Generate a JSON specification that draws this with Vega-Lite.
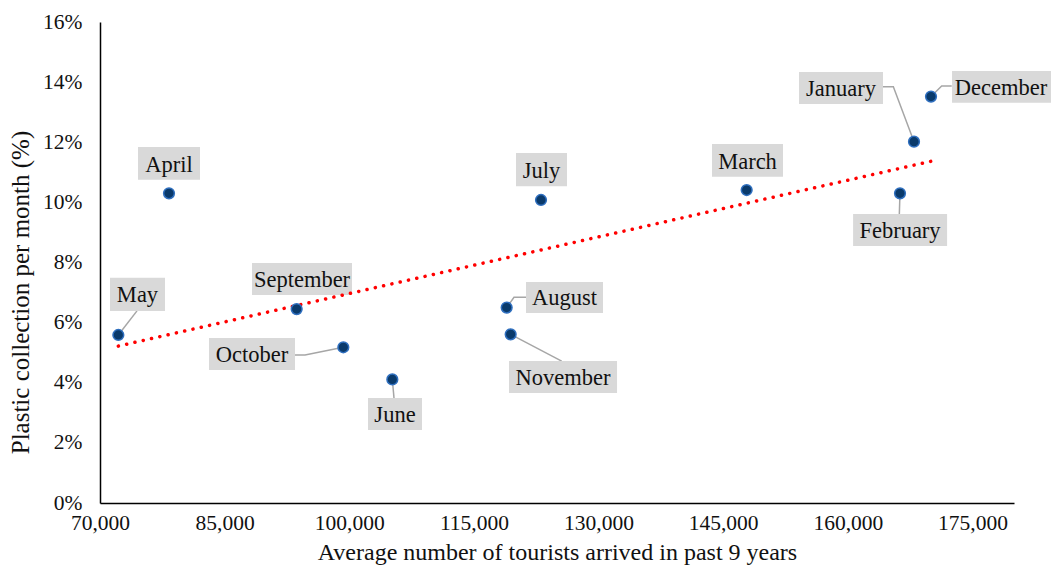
{
  "$schema": "https://vega.github.io/schema/vega-lite/v6.json",
  "width": 914,
  "height": 481,
  "autosize": {"type": "none"},
  "padding": {"left": 100, "top": 22, "right": 37, "bottom": 72},
  "background": "white",
  "config": {
    "view": {"stroke": null},
    "font": "Liberation Serif",
    "axis": {
      "grid": false,
      "ticks": false,
      "tickSize": 0,
      "domainColor": "#000000",
      "domainWidth": 1.5,
      "labelFont": "Liberation Serif",
      "labelFontSize": 21.5,
      "labelColor": "#111111",
      "titleFont": "Liberation Serif",
      "titleFontWeight": "normal",
      "titleColor": "#111111"
    }
  },
  "datasets": {
    "points": [
      {"month": "May", "x": 72206, "y": 5.59},
      {"month": "April", "x": 78304, "y": 10.30},
      {"month": "September", "x": 93669, "y": 6.45},
      {"month": "October", "x": 99285, "y": 5.18},
      {"month": "June", "x": 105182, "y": 4.11},
      {"month": "August", "x": 118943, "y": 6.50},
      {"month": "November", "x": 119424, "y": 5.61},
      {"month": "July", "x": 123075, "y": 10.08},
      {"month": "March", "x": 147827, "y": 10.41},
      {"month": "February", "x": 166280, "y": 10.30},
      {"month": "January", "x": 167965, "y": 12.02},
      {"month": "December", "x": 170011, "y": 13.52}
    ],
    "labels": [
      {"month": "April", "x": 78304, "y": 11.29, "bx1": 74573, "bx2": 82035, "by1": 10.75, "by2": 11.84},
      {"month": "May", "x": 74513, "y": 6.94, "bx1": 71204, "bx2": 77823, "by1": 6.39, "by2": 7.49},
      {"month": "September", "x": 94311, "y": 7.45, "bx1": 88293, "bx2": 100328, "by1": 6.92, "by2": 7.98},
      {"month": "October", "x": 88293, "y": 4.96, "bx1": 83118, "bx2": 93469, "by1": 4.42, "by2": 5.49},
      {"month": "July", "x": 123134, "y": 11.09, "bx1": 120068, "bx2": 126206, "by1": 10.54, "by2": 11.64},
      {"month": "August", "x": 125903, "y": 6.84, "bx1": 121271, "bx2": 130537, "by1": 6.32, "by2": 7.35},
      {"month": "November", "x": 125722, "y": 4.19, "bx1": 119226, "bx2": 132224, "by1": 3.66, "by2": 4.72},
      {"month": "June", "x": 105503, "y": 2.96, "bx1": 102254, "bx2": 108753, "by1": 2.43, "by2": 3.49},
      {"month": "March", "x": 147927, "y": 11.39, "bx1": 143654, "bx2": 152198, "by1": 10.85, "by2": 11.94},
      {"month": "January", "x": 159180, "y": 13.81, "bx1": 154125, "bx2": 164235, "by1": 13.27, "by2": 14.34},
      {"month": "December", "x": 178436, "y": 13.84, "bx1": 172542, "bx2": 184600, "by1": 13.31, "by2": 14.37},
      {"month": "February", "x": 166280, "y": 9.08, "bx1": 160636, "bx2": 171948, "by1": 8.55, "by2": 9.61}
    ],
    "leaders": [
      {"month": "May", "ord": 1, "x": 74453, "y": 6.39},
      {"month": "May", "ord": 2, "x": 72206, "y": 5.59},
      {"month": "October", "ord": 1, "x": 93469, "y": 4.92},
      {"month": "October", "ord": 2, "x": 94673, "y": 4.92},
      {"month": "October", "ord": 3, "x": 99285, "y": 5.18},
      {"month": "August", "ord": 1, "x": 121271, "y": 6.84},
      {"month": "August", "ord": 2, "x": 119825, "y": 6.84},
      {"month": "August", "ord": 3, "x": 118943, "y": 6.50},
      {"month": "November", "ord": 1, "x": 125562, "y": 4.72},
      {"month": "November", "ord": 2, "x": 119424, "y": 5.61},
      {"month": "June", "ord": 1, "x": 105383, "y": 3.49},
      {"month": "June", "ord": 2, "x": 105182, "y": 4.11},
      {"month": "January", "ord": 1, "x": 164195, "y": 13.85},
      {"month": "January", "ord": 2, "x": 165479, "y": 13.85},
      {"month": "January", "ord": 3, "x": 167965, "y": 12.02},
      {"month": "December", "ord": 1, "x": 172502, "y": 13.87},
      {"month": "December", "ord": 2, "x": 171298, "y": 13.87},
      {"month": "December", "ord": 3, "x": 170011, "y": 13.52},
      {"month": "February", "ord": 1, "x": 166200, "y": 9.61},
      {"month": "February", "ord": 2, "x": 166280, "y": 10.30}
    ]
  },
  "layer": [
    {
      "data": {"name": "leaders"},
      "mark": {"type": "line", "color": "#a6a6a6", "strokeWidth": 1.5},
      "encoding": {
        "x": {"field": "x", "type": "quantitative", "title": "Average number of tourists arrived in past 9 years"},
        "y": {"field": "y", "type": "quantitative", "title": "Plastic collection per month (%)"},
        "detail": {"field": "month"},
        "order": {"field": "ord", "type": "quantitative"}
      }
    },
    {
      "data": {"name": "labels"},
      "mark": {"type": "rect", "color": "#d9d9d9", "clip": false},
      "encoding": {
        "x": {"field": "bx1", "type": "quantitative", "title": "Average number of tourists arrived in past 9 years"},
        "x2": {"field": "bx2"},
        "y": {"field": "by1", "type": "quantitative", "title": "Plastic collection per month (%)"},
        "y2": {"field": "by2"}
      }
    },
    {
      "data": {"name": "labels"},
      "mark": {"type": "text", "font": "Liberation Serif", "fontSize": 22.5, "color": "#111111", "align": "center", "baseline": "middle", "dy": 1},
      "encoding": {
        "x": {"field": "x", "type": "quantitative", "title": "Average number of tourists arrived in past 9 years"},
        "y": {"field": "y", "type": "quantitative", "title": "Plastic collection per month (%)"},
        "text": {"field": "month"}
      }
    },
    {
      "data": {"name": "points"},
      "transform": [{"regression": "y", "on": "x", "method": "linear"}],
      "mark": {"type": "line", "color": "#ff0000", "strokeWidth": 3.5, "strokeCap": "round", "strokeDash": [0.1, 8.4]},
      "encoding": {
        "x": {"field": "x", "type": "quantitative", "title": "Average number of tourists arrived in past 9 years"},
        "y": {"field": "y", "type": "quantitative", "title": "Plastic collection per month (%)"}
      }
    },
    {
      "data": {"name": "points"},
      "mark": {"type": "circle", "size": 115, "fill": "#0a3a6b", "stroke": "#2f6fbf", "strokeWidth": 1.5, "opacity": 1},
      "encoding": {
        "x": {
          "field": "x", "type": "quantitative",
          "title": "Average number of tourists arrived in past 9 years",
          "scale": {"domain": [70000, 180000], "nice": false, "zero": false},
          "axis": {"values": [70000, 85000, 100000, 115000, 130000, 145000, 160000, 175000], "labelExpr": "format(datum.value, ',.0f')", "labelPadding": 9, "titlePadding": 7, "titleFontSize": 24, "labelFlush": false}
        },
        "y": {
          "field": "y", "type": "quantitative",
          "title": "Plastic collection per month (%)",
          "scale": {"domain": [0, 16], "nice": false},
          "axis": {"values": [0, 2, 4, 6, 8, 10, 12, 14, 16], "labelExpr": "datum.value + '%'", "labelPadding": 18, "titlePadding": 9, "titleFontSize": 25, "titleY": 270}
        }
      }
    }
  ]
}
